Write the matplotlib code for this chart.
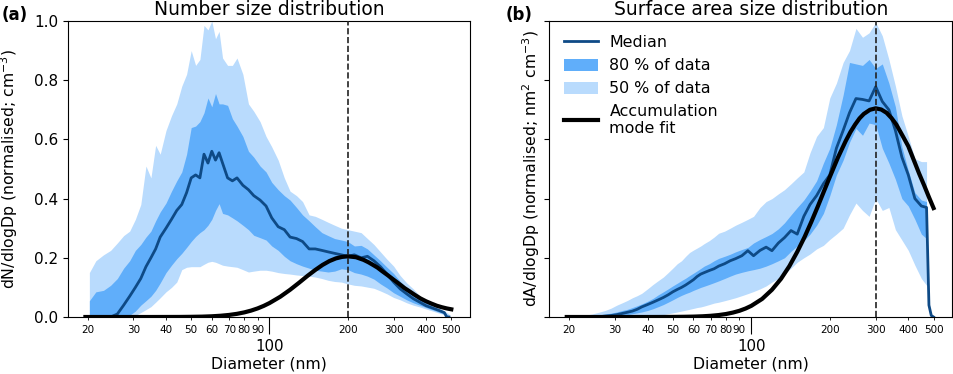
import numpy as np
import matplotlib.pyplot as plt
from matplotlib import ticker
from matplotlib.patches import Patch
from matplotlib.lines import Line2D

nan = np.nan

# diameter bins (nm), shared by both panels
diameter = [19.6, 20.3, 21.5, 23, 24.5, 26, 27.5, 29, 30.5, 32,
            33.5, 35, 36.5, 38, 40, 42, 44, 46, 48, 50,
            52, 54, 56, 58, 60, 62, 64, 66, 69, 72,
            75, 79, 83, 87, 92, 97, 102, 108, 114, 120,
            127, 134, 142, 150, 159, 168, 178, 189, 200, 212,
            225, 238, 252, 267, 283, 300, 318, 337, 357, 378,
            400, 424, 449, 470, 480, 490, 500]

# (a) number size distribution, normalised
num_median = [0, 0, 0, 0, 0, 0.01, 0.04, 0.07, 0.10, 0.13,
              0.17, 0.20, 0.23, 0.27, 0.30, 0.33, 0.36, 0.38, 0.42, 0.47,
              0.48, 0.47, 0.55, 0.52, 0.56, 0.53, 0.555, 0.52, 0.47, 0.46,
              0.47, 0.445, 0.43, 0.41, 0.395, 0.375, 0.335, 0.305, 0.295, 0.27,
              0.265, 0.255, 0.23, 0.23, 0.225, 0.22, 0.215, 0.21, 0.205, 0.21,
              0.20, 0.205, 0.19, 0.17, 0.145, 0.118, 0.095, 0.078, 0.062, 0.05,
              0.038, 0.03, 0.022, 0.015, 0.0, 0.0, nan]
num_light_hi = [nan, 0.15, 0.19, 0.21, 0.225, 0.25, 0.275, 0.29, 0.33, 0.38,
                0.51, 0.47, 0.58, 0.55, 0.63, 0.68, 0.72, 0.78, 0.82, 0.90,
                0.85, 0.87, 0.985, 0.97, 1.0, 0.94, 0.965, 0.875, 0.85, 0.85,
                0.875, 0.82, 0.72, 0.695, 0.66, 0.61, 0.575, 0.53, 0.47, 0.425,
                0.41, 0.39, 0.345, 0.34, 0.33, 0.32, 0.31, 0.30, 0.295, 0.29,
                0.285, 0.265, 0.245, 0.22, 0.195, 0.172, 0.14, 0.115, 0.095, 0.072,
                0.055, 0.04, 0.03, 0.02, 0.015, 0.01, nan]
num_light_lo = [nan, 0, 0, 0, 0, 0, 0, 0, 0.005, 0.015,
                0.025, 0.035, 0.05, 0.065, 0.085, 0.10, 0.118, 0.16, 0.168, 0.17,
                0.17, 0.17, 0.178, 0.185, 0.188, 0.185, 0.18, 0.175, 0.172, 0.17,
                0.168, 0.16, 0.152, 0.155, 0.158, 0.158, 0.155, 0.15, 0.147, 0.145,
                0.142, 0.14, 0.138, 0.135, 0.13, 0.124, 0.12, 0.118, 0.112, 0.107,
                0.105, 0.101, 0.097, 0.088, 0.078, 0.066, 0.058, 0.048, 0.04, 0.034,
                0.027, 0.02, 0.013, 0.008, 0.005, 0, nan]
num_dark_hi = [nan, 0.055, 0.085, 0.09, 0.107, 0.13, 0.165, 0.19, 0.225, 0.245,
               0.27, 0.29, 0.325, 0.355, 0.385, 0.425, 0.46, 0.49, 0.55, 0.64,
               0.645, 0.66, 0.69, 0.74, 0.71, 0.755, 0.72, 0.72, 0.715, 0.67,
               0.645, 0.61, 0.56, 0.54, 0.51, 0.49, 0.455, 0.43, 0.41, 0.395,
               0.37, 0.345, 0.325, 0.305, 0.285, 0.275, 0.265, 0.26, 0.255, 0.24,
               0.242, 0.23, 0.21, 0.19, 0.168, 0.147, 0.12, 0.10, 0.08, 0.062,
               0.048, 0.036, 0.025, 0.016, 0.01, 0.0, nan]
num_dark_lo = [nan, 0, 0, 0, 0, 0, 0, 0.006, 0.02, 0.04,
               0.055, 0.07, 0.09, 0.115, 0.15, 0.175, 0.197, 0.215, 0.235, 0.255,
               0.272, 0.285, 0.295, 0.31, 0.33, 0.36, 0.383, 0.35, 0.345, 0.335,
               0.325, 0.31, 0.295, 0.276, 0.268, 0.26, 0.24, 0.225, 0.205, 0.19,
               0.18, 0.172, 0.165, 0.158, 0.155, 0.152, 0.155, 0.163, 0.16, 0.15,
               0.145, 0.138, 0.128, 0.112, 0.098, 0.082, 0.07, 0.058, 0.048, 0.04,
               0.032, 0.024, 0.016, 0.01, 0.006, 0, nan]

# (b) surface area size distribution, normalised
area_median = [0, 0, 0, 0, 0, 0.001, 0.003, 0.005, 0.008, 0.012,
               0.016, 0.02, 0.026, 0.034, 0.042, 0.05, 0.058, 0.066, 0.075, 0.085,
               0.093, 0.10, 0.108, 0.117, 0.126, 0.137, 0.145, 0.15, 0.157, 0.163,
               0.172, 0.18, 0.19, 0.197, 0.207, 0.224, 0.207, 0.225, 0.236, 0.224,
               0.25, 0.268, 0.292, 0.28, 0.34, 0.38, 0.41, 0.45, 0.48, 0.57,
               0.63, 0.69, 0.738, 0.735, 0.73, 0.778, 0.728, 0.70, 0.63, 0.54,
               0.48, 0.40, 0.375, 0.37, 0.04, 0.005, 0.0]
area_light_hi = [nan, 0, 0.002, 0.006, 0.01, 0.016, 0.022, 0.03, 0.04, 0.048,
                 0.056, 0.065, 0.072, 0.08, 0.095, 0.11, 0.123, 0.135, 0.15, 0.165,
                 0.18, 0.19, 0.205, 0.218, 0.226, 0.233, 0.24, 0.248, 0.258, 0.27,
                 0.283, 0.29, 0.30, 0.31, 0.32, 0.33, 0.34, 0.37, 0.39, 0.40,
                 0.416, 0.43, 0.45, 0.47, 0.49, 0.555, 0.61, 0.64, 0.74, 0.79,
                 0.86, 0.90, 0.975, 0.945, 0.96, 0.995, 0.95, 0.87, 0.78, 0.68,
                 0.61, 0.535, 0.525, 0.525, nan, nan, nan]
area_light_lo = [nan, 0, 0, 0, 0, 0, 0, 0, 0, 0,
                 0, 0, 0, 0, 0.002, 0.004, 0.006, 0.008, 0.011, 0.014,
                 0.017, 0.02, 0.023, 0.026, 0.029, 0.032, 0.034, 0.037, 0.042, 0.047,
                 0.05, 0.055, 0.06, 0.065, 0.072, 0.079, 0.086, 0.095, 0.105, 0.118,
                 0.13, 0.145, 0.165, 0.185, 0.20, 0.213, 0.23, 0.242, 0.262, 0.28,
                 0.30, 0.345, 0.385, 0.36, 0.34, 0.40, 0.36, 0.37, 0.295, 0.26,
                 0.225, 0.175, 0.13, 0.107, nan, nan, nan]
area_dark_hi = [nan, 0, 0.001, 0.002, 0.004, 0.007, 0.01, 0.013, 0.017, 0.022,
                0.026, 0.032, 0.038, 0.044, 0.053, 0.063, 0.075, 0.085, 0.095, 0.105,
                0.114, 0.123, 0.131, 0.14, 0.148, 0.156, 0.164, 0.172, 0.18, 0.19,
                0.198, 0.205, 0.212, 0.22, 0.228, 0.235, 0.25, 0.262, 0.272, 0.282,
                0.298, 0.318, 0.345, 0.37, 0.395, 0.425, 0.46, 0.52, 0.57, 0.65,
                0.75, 0.86, 0.855, 0.85, 0.87, 0.84, 0.855, 0.79, 0.71, 0.575,
                0.495, 0.42, 0.395, 0.39, nan, nan, nan]
area_dark_lo = [nan, 0, 0, 0, 0, 0, 0, 0.001, 0.003, 0.005,
                0.008, 0.011, 0.014, 0.017, 0.022, 0.028, 0.035, 0.042, 0.05, 0.058,
                0.066, 0.073, 0.079, 0.084, 0.09, 0.095, 0.10, 0.104, 0.11, 0.116,
                0.122, 0.13, 0.138, 0.145, 0.151, 0.156, 0.16, 0.165, 0.172, 0.18,
                0.19, 0.20, 0.222, 0.24, 0.258, 0.28, 0.31, 0.35, 0.41, 0.48,
                0.53, 0.59, 0.637, 0.614, 0.655, 0.65, 0.57, 0.52, 0.465, 0.40,
                0.375, 0.33, 0.28, 0.265, nan, nan, nan]

# accumulation mode fits
fit_d = [19.6, 25, 30, 35, 40, 45, 50, 55, 60, 65,
         70, 75, 80, 85, 90, 95, 100, 110, 120, 130,
         140, 150, 160, 170, 180, 190, 200, 215, 230, 240,
         250, 260, 270, 285, 300, 315, 330, 345, 360, 380,
         400, 420, 440, 460, 480, 500]
num_fit = [0, 0, 0, 0, 0.0001, 0.0002, 0.0006, 0.0012, 0.0024, 0.0043,
           0.007, 0.0107, 0.0156, 0.0217, 0.029, 0.0375, 0.0471, 0.0685, 0.092, 0.116,
           0.139, 0.159, 0.176, 0.189, 0.198, 0.203, 0.205, 0.202, 0.193, 0.185,
           0.176, 0.167, 0.156, 0.141, 0.126, 0.112, 0.098, 0.087, 0.076, 0.063,
           0.053, 0.045, 0.038, 0.033, 0.029, 0.026]
area_fit = [0, 0, 0, 0, 0, 0.0001, 0.0003, 0.0007, 0.0013, 0.0024,
            0.0041, 0.0066, 0.0101, 0.0149, 0.0209, 0.0285, 0.0377, 0.061, 0.092, 0.129,
            0.172, 0.22, 0.27, 0.322, 0.374, 0.425, 0.473, 0.539, 0.594, 0.625,
            0.65, 0.671, 0.686, 0.70, 0.705, 0.701, 0.69, 0.672, 0.65, 0.613,
            0.577, 0.53, 0.485, 0.445, 0.405, 0.368]

mode_num = 200
mode_area = 300

light_col = '#b9dbfd'
dark_col = '#60aefa'
med_col = '#0e4a86'

fig = plt.figure(figsize=(9.54, 3.74), dpi=100)
ax1 = fig.add_axes([68 / 954, 57 / 374, 402 / 954, 296 / 374])
ax2 = fig.add_axes([549.3 / 954, 57 / 374, 403 / 954, 296 / 374])

panels = [
    (ax1, num_median, num_light_lo, num_light_hi, num_dark_lo, num_dark_hi, num_fit, mode_num,
     'Number size distribution', 'dN/dlogDp (normalised; cm$^{-3}$)', -0.119),
    (ax2, area_median, area_light_lo, area_light_hi, area_dark_lo, area_dark_hi, area_fit, mode_area,
     'Surface area size distribution', 'dA/dlogDp (normalised; nm$^{2}$ cm$^{-3}$)', -0.019),
]

for ax, med, llo, lhi, dlo, dhi, fit, mode, title, ylab, ylx in panels:
    ax.fill_between(diameter, llo, lhi, color=light_col, linewidth=0)
    ax.fill_between(diameter, dlo, dhi, color=dark_col, linewidth=0)
    ax.plot(diameter, med, color=med_col, lw=2)
    ax.plot(fit_d, fit, color='k', lw=3)
    ax.axvline(mode, color='#222222', ls='--', lw=1.2, zorder=5)

    ax.set_xscale('log')
    ax.set_xlim(16.8, 590)
    ax.set_ylim(0, 1.0)
    ax.set_yticks([0, 0.2, 0.4, 0.6, 0.8, 1.0])
    ax.xaxis.set_major_locator(ticker.FixedLocator([100]))
    ax.xaxis.set_minor_locator(ticker.FixedLocator([20, 30, 40, 50, 60, 70, 80, 90,
                                                    200, 300, 400, 500]))
    ax.xaxis.set_major_formatter(ticker.FuncFormatter(lambda v, p: f'{v:.0f}'))
    ax.xaxis.set_minor_formatter(ticker.FuncFormatter(lambda v, p: f'{v:.0f}'))
    ax.tick_params(axis='x', which='major', length=12, labelsize=10.8)
    ax.tick_params(axis='x', which='minor', length=2.5, labelsize=7.5)
    ax.tick_params(axis='y', labelsize=11)

    ax.set_title(title, fontsize=13.5, pad=4.3)
    ax.set_xlabel('Diameter (nm)', fontsize=11.3)
    ax.xaxis.set_label_coords(0.5, -0.135)
    ax.set_ylabel(ylab, fontsize=11.3)
    ax.yaxis.set_label_coords(ylx, 0.5)

ax2.tick_params(axis='y', labelleft=False)

handles = [Line2D([], [], color=med_col, lw=2),
           Patch(color=dark_col, linewidth=0),
           Patch(color=light_col, linewidth=0),
           Line2D([], [], color='k', lw=3)]
labels = ['Median', '80 % of data', '50 % of data', 'Accumulation\nmode fit']
ax2.legend(handles, labels, loc='upper left', frameon=False, fontsize=11.4,
           labelspacing=0.5, handlelength=2.2, handletextpad=0.7,
           handleheight=0.8)

fig.text(0.002, 1 - 20.5 / 374, '(a)', fontsize=12, fontweight='bold', va='baseline')
fig.text(506 / 954, 1 - 20.5 / 374, '(b)', fontsize=12, fontweight='bold', va='baseline')

fig.savefig('out.png', dpi=100)
